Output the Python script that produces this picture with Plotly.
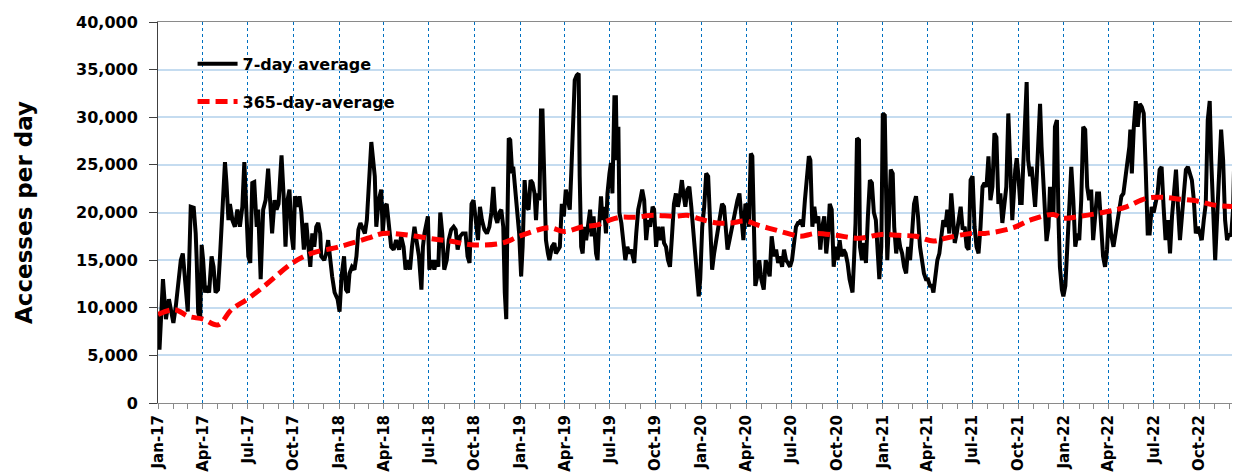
import pandas as pd
import plotly.graph_objects as go

START = "2017-01-01"

# 7-day average: (days since 2017-01-01, accesses per day)
days_7 = [0, 3, 10, 16, 22, 27, 31, 36, 41, 46, 50, 54, 60, 63, 66, 72, 76, 78, 81, 85, 88, 91, 95, 98, 103, 108, 112, 116, 121, 125, 129, 135, 138, 142, 145, 150, 155, 160, 165, 170, 174, 177, 182, 186, 190, 194, 199, 202, 207, 212, 217, 222, 226, 230, 235, 239, 243, 249, 253, 257, 261, 265, 269, 273, 276, 281, 285, 289, 294, 299, 302, 307, 311, 315, 319, 323, 327, 329, 335, 339, 343, 347, 351, 356, 362, 366, 370, 375, 379, 383, 386, 391, 396, 400, 404, 408, 413, 417, 421, 427, 430,
          437, 440, 445, 450, 453, 457, 461, 465, 470, 475, 480, 486, 490, 495, 499, 504, 508, 512, 517, 521, 526, 531, 534, 537, 541, 544, 547, 553, 557, 561, 565, 569, 573, 577, 582, 586, 591, 596, 600, 604, 609, 614, 620, 624, 628, 632, 636, 640, 645, 649, 653, 658, 663, 668, 672, 676, 680, 684, 688, 692, 696, 699, 702, 704, 707, 710, 714, 716, 720, 724, 728, 732, 735, 739, 743, 747, 751, 755, 759, 762, 765, 769, 772, 775, 779, 782, 786, 789, 794, 799, 802, 806, 810, 814, 818, 822, 826, 830, 833, 837, 840, 844, 848, 850, 853, 856,
          859, 863, 867, 871, 874, 878, 883, 886, 889, 893, 896, 899, 903, 906, 910, 913, 916, 920, 923, 925, 928, 930, 934, 938, 942, 946, 950, 954, 960, 964, 968, 972, 976, 980, 984, 988, 992, 997, 1000, 1004, 1008, 1012, 1017, 1020, 1024, 1028, 1032, 1036, 1040, 1044, 1048, 1052, 1056, 1059, 1063, 1067, 1071, 1075, 1079, 1083, 1087, 1090, 1093, 1097, 1101, 1105, 1109, 1113, 1117, 1121, 1125, 1129, 1133, 1137, 1141, 1144, 1148, 1152, 1156, 1160, 1164, 1168, 1172, 1176, 1180, 1184, 1188, 1191, 1195, 1198, 1201, 1204, 1208, 1212, 1216, 1221, 1225, 1229, 1233, 1237, 1242, 1246, 1250, 1254, 1258, 1262, 1266, 1270, 1274, 1278, 1282, 1286, 1290,
          1292, 1296, 1300, 1304, 1308, 1312, 1315, 1319, 1323, 1327, 1331, 1335, 1339, 1343, 1347, 1351, 1354, 1358, 1362, 1366, 1370, 1374, 1378, 1382, 1386, 1390, 1394, 1398, 1400, 1403, 1406, 1409, 1413, 1415, 1419, 1423, 1427, 1431, 1435, 1439, 1443, 1447, 1450, 1454, 1458, 1461, 1465, 1468, 1470, 1473, 1477, 1481, 1484, 1488, 1492, 1496, 1500, 1504, 1508, 1512, 1516, 1520, 1524, 1528, 1532, 1536, 1540, 1544, 1548, 1552, 1556, 1560, 1563, 1567, 1571, 1575, 1579, 1583, 1587, 1591, 1595, 1599, 1602, 1606, 1610, 1614, 1618, 1622, 1626, 1630, 1634, 1638, 1642, 1646, 1650, 1654, 1658, 1662, 1666, 1670, 1674, 1678, 1682, 1686, 1690, 1694, 1698, 1702, 1706, 1710, 1714, 1718, 1722,
          1728, 1731, 1734, 1738, 1741, 1744, 1748, 1751, 1754, 1758, 1761, 1765, 1768, 1771, 1775, 1778, 1781, 1785, 1788, 1791, 1795, 1798, 1801, 1805, 1808, 1812, 1815, 1818, 1822, 1825, 1829, 1833, 1837, 1841, 1845, 1849, 1853, 1857, 1861, 1865, 1869, 1873, 1877, 1881, 1885, 1889, 1893, 1897, 1901, 1905, 1909, 1913, 1917, 1921, 1926, 1930, 1934, 1938, 1942, 1946, 1950, 1954, 1958, 1960, 1963, 1967, 1971, 1975, 1979, 1983, 1987, 1991, 1995, 1999, 2003, 2007, 2011, 2015, 2019, 2023, 2027, 2031, 2036, 2040, 2044, 2048, 2052, 2056, 2060, 2064, 2068, 2072, 2076, 2080, 2084, 2088, 2092, 2096, 2100, 2104, 2108, 2112, 2116, 2120, 2123, 2127, 2131, 2135, 2139, 2143, 2147, 2151, 2155, 2159, 2163, 2167, 2171, 2175]

vals_7 = [9300, 5600, 13000, 8800, 10900, 9500, 8400, 10200, 13000, 15000, 15700, 13300, 9600, 15000, 20600, 20500, 17800, 15000, 9500, 8800, 16600, 15000, 11600, 12300, 11600, 15400, 14300, 11600, 11900, 15400, 20000, 25300, 23100, 19200, 20900, 19200, 18500, 20300, 18500, 20600, 25300, 21300, 15400, 14700, 23100, 23200, 18500, 20300, 13000, 20300, 21300, 24600, 20300, 17800, 21300, 20300, 20900, 26000, 22000, 16400, 21300, 22400, 17800, 16100, 21700, 20600, 21700, 20000, 16100, 18900, 17100, 14300, 17800, 16400, 18500, 18900, 17800, 15400, 15000, 15700, 17100, 14700, 13300, 11600, 10900, 9600, 13300, 15400, 11900, 11600, 13600, 14300, 14000, 15400, 18200, 18900, 18200, 17800, 19200, 24800, 27400,
          23800, 18500, 21300, 22400, 17800, 20600, 20900, 18500, 16400, 16100, 17100, 16100, 17500, 16400, 14000, 15000, 14000, 16400, 18500, 17100, 15400, 11900, 16400, 17800, 19200, 19600, 14000, 15000, 14000, 15000, 14300, 20000, 17800, 14000, 15000, 17100, 18200, 18500, 18200, 16100, 17500, 17800, 17800, 15400, 14700, 20900, 21300, 19600, 17100, 20600, 19200, 18200, 17800, 18500, 20000, 22700, 19600, 18900, 20000, 20300, 18500, 11600, 8800, 17800, 27800, 27600, 24100, 24800, 22400, 20600, 17800, 13300, 16400, 23400, 20600, 20300, 23400, 23100, 22000, 19200, 22000, 21300, 30700, 30700, 21300, 17100, 15700, 15000, 16400, 16800, 15700, 16100, 16400, 20900, 19600, 22400, 21300, 20300, 24100, 29000, 33900, 34400, 34600, 23800, 16400, 15700,
          18500, 17100, 19200, 20300, 17500, 19600, 15700, 15000, 18500, 21700, 19200, 20600, 17800, 22000, 24100, 25200, 22000, 32100, 32100, 25500, 29000, 20000, 18900, 17100, 15000, 16400, 15700, 16100, 14700, 17800, 20300, 21300, 22400, 21300, 17100, 19200, 18500, 20600, 20300, 16400, 18500, 17100, 18500, 16800, 16400, 15000, 14300, 17500, 20900, 22000, 20600, 21700, 23400, 22000, 20600, 22400, 22700, 20600, 17800, 16400, 13000, 11200, 13000, 18500, 20600, 24100, 23800, 18200, 14000, 15700, 17100, 18500, 20000, 20900, 20600, 18200, 16100, 17100, 18200, 19200, 20300, 21300, 22000, 20000, 17100, 20900, 20600, 18500, 26200, 25900, 18500, 12300, 13300, 15000, 13000, 11900, 15000, 14300, 13300, 17500, 15400, 16100, 14700, 15400, 14300, 16100, 15000, 14700, 14300, 15000, 17100, 18500, 18900,
          18900, 19200, 18500, 21300, 24100, 25900, 25500, 18500, 20600, 18900, 19600, 16100, 18500, 19600, 15700, 17800, 20900, 20300, 14300, 16400, 15000, 17100, 15400, 16100, 15700, 14700, 13000, 12300, 11600, 15000, 18900, 27800, 27600, 16400, 15000, 16800, 14700, 19600, 23400, 23100, 20000, 19200, 15700, 13000, 16400, 30400, 30200, 22000, 15000, 18500, 24500, 24100, 18500, 15700, 17800, 16400, 15700, 14300, 13600, 16400, 15000, 17800, 20900, 21700, 19600, 16400, 15000, 13600, 13000, 13000, 12300, 12300, 11600, 13600, 15000, 15700, 17100, 19200, 18500, 20300, 17800, 22000, 20000, 16800, 17800, 19600, 20600, 18200, 18500, 16400, 16100, 23400, 23800, 18500, 16400, 15700, 18500, 22700, 23100, 22700, 25900, 21300, 22700, 28300, 27900, 20900, 22000, 18900, 21300, 22700, 30400, 25500, 19200,
          24500, 25700, 24100, 21000, 21000, 25500, 32100, 33700, 25500, 23800, 24800, 22700, 20600, 23400, 29000, 31400, 26900, 22700, 20600, 17000, 18500, 22700, 20600, 19600, 29000, 29700, 19600, 14300, 11900, 11200, 12300, 16400, 22000, 24800, 21300, 16400, 17800, 17100, 21300, 29000, 28700, 22700, 21300, 22400, 17100, 19600, 22000, 22000, 18200, 15400, 14300, 16100, 20300, 17800, 16400, 17800, 19200, 20600, 21700, 22000, 23400, 25200, 26900, 28700, 24100, 29000, 31700, 29000, 31400, 31100, 30400, 24500, 17800, 17800, 20600, 20000, 21300, 22000, 24500, 24800, 20600, 17100, 19200, 15700, 19600, 22700, 24500, 20600, 17100, 19600, 22000, 24500, 24800, 24100, 23400, 21300, 17800, 18500, 17800, 17100, 19200, 20900, 29700, 31700, 25500, 19200, 15000, 19600, 24800, 28700, 25500, 19200, 17100, 17800, 17500, 20300, 29000, 32500]

# 365-day average
days_365 = [0, 34, 61, 91, 121, 148, 180, 215, 271, 309, 365, 423, 453, 494, 545, 588, 638, 695, 728, 789, 819, 856, 886, 910, 933, 960, 1000, 1040, 1067, 1094, 1127, 1154, 1186, 1208, 1242, 1276, 1295, 1325, 1367, 1413, 1459, 1493, 1527, 1563, 1587, 1639, 1667, 1724, 1758, 1805, 1824, 1858, 1914, 1952, 1993, 2026, 2060, 2095, 2127, 2174]
vals_365 = [9300, 9800, 9100, 8800, 8200, 9800, 10900, 12300, 14700, 15700, 16400, 17300, 17800, 17700, 17300, 17000, 16600, 16800, 17500, 18400, 18000, 18500, 18700, 19200, 19500, 19500, 19700, 19600, 19700, 19300, 18900, 18900, 19100, 18700, 18200, 17700, 17500, 17800, 17600, 17300, 17700, 17600, 17500, 17000, 17300, 17800, 17800, 18400, 19200, 19800, 19400, 19600, 20100, 20600, 21500, 21600, 21400, 21200, 20800, 20600]

tick_dates = pd.date_range("2017-01-01", "2022-10-01", freq="QS").strftime("%Y-%m-%d").tolist()
tick_labels = ["Jan-17", "Apr-17", "Jul-17", "Oct-17", "Jan-18", "Apr-18", "Jul-18", "Oct-18",
               "Jan-19", "Apr-19", "Jul-19", "Oct-19", "Jan-20", "Apr-20", "Jul-20", "Oct-20",
               "Jan-21", "Apr-21", "Jul-21", "Oct-21", "Jan-22", "Apr-22", "Jul-22", "Oct-22"]

x7 = pd.Timestamp(START) + pd.to_timedelta(days_7, unit="D")
x365 = pd.Timestamp(START) + pd.to_timedelta(days_365, unit="D")

FONT = "DejaVu Sans"

fig = go.Figure()
fig.add_trace(go.Scatter(x=x7, y=vals_7, mode="lines", name="7-day average",
                         legendgroup="a",
                         line=dict(color="#000000", width=4)))
fig.add_trace(go.Scatter(x=x365, y=vals_365, mode="lines", name="365-day-average",
                         legendgroup="b",
                         line=dict(color="#FF0000", width=5, dash="12px,6px", shape="spline")))

# The page body has an 8px margin, so the figure is sized to fit inside the window.
fig.update_layout(
    width=1232, height=468,
    margin=dict(l=150, r=2, t=14, b=73, autoexpand=False),
    paper_bgcolor="white", plot_bgcolor="white",
    font=dict(family=FONT, color="black"),
    showlegend=True,
    legend=dict(x=0.032, y=0.935, xanchor="left", yanchor="top",
                bgcolor="rgba(255,255,255,0)",
                itemwidth=40,
                font=dict(family=FONT, size=16, color="black", weight="bold"),
                tracegroupgap=14),
    xaxis=dict(
        type="date",
        range=["2017-01-01", "2022-12-18"],
        tickmode="array", tickvals=tick_dates, ticktext=tick_labels,
        tickangle=-90,
        tickfont=dict(family=FONT, size=15, color="black", weight="bold"),
        ticks="outside", ticklen=5, tickcolor="#8a8a8a",
        showline=True, linecolor="#8a8a8a", linewidth=1, mirror=True,
        showgrid=True, gridcolor="#0070C0", griddash="dot", gridwidth=1,
        minor=dict(tickmode="linear", tick0="2017-01-01", dtick="M1",
                   ticks="outside", ticklen=5, tickcolor="#8a8a8a", showgrid=False),
        zeroline=False,
        automargin=False,
    ),
    yaxis=dict(
        range=[0, 40000], tickmode="linear", tick0=0, dtick=5000,
        tickformat=",",
        tickfont=dict(family=FONT, size=16, color="black", weight="bold"),
        ticks="outside", ticklen=8, tickcolor="#404040",
        ticklabelstandoff=8,
        showline=True, linecolor="#404040", linewidth=1,
        showgrid=True, gridcolor="#C5DCF0", gridwidth=1.5,
        zeroline=False,
        automargin=False,
        title=dict(text="Accesses per day", standoff=36,
                   font=dict(family=FONT, size=23, color="black", weight="bold")),
    ),
)

fig.write_html("out.html")
